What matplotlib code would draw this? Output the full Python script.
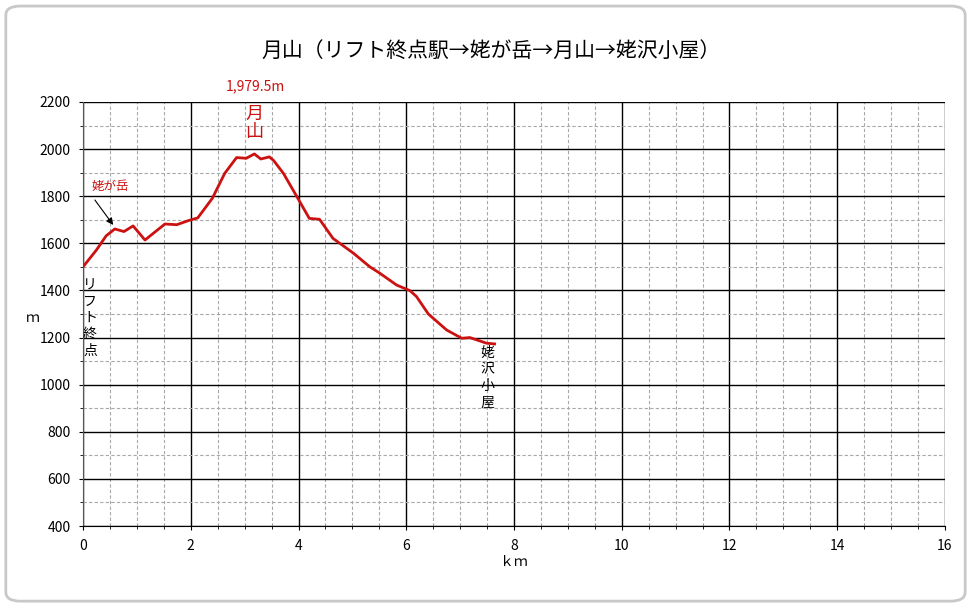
import numpy as np
import matplotlib.pyplot as plt
from matplotlib.patches import FancyBboxPatch

plt.rcParams['font.family'] = ['Noto Sans CJK JP', 'DejaVu Sans']

# profile (km, m)
dist_km = [0.0, 0.25, 0.43, 0.59, 0.76, 0.93, 1.15, 1.52, 1.74, 1.95, 2.13, 2.40,
           2.63, 2.85, 3.03, 3.18, 3.30, 3.46, 3.54, 3.72, 3.97, 4.20, 4.39, 4.64,
           5.02, 5.32, 5.51, 5.82, 6.07, 6.19, 6.41, 6.75, 7.03, 7.18, 7.49, 7.64]
elev_m = [1500, 1572, 1632, 1661, 1650, 1674, 1614, 1682, 1679, 1696, 1708, 1791,
          1897, 1964, 1961, 1979.5, 1958, 1967, 1951, 1897, 1798, 1706, 1702, 1621,
          1558, 1501, 1473, 1423, 1399, 1374, 1300, 1232, 1197, 1200, 1176, 1173]

peak_label = "1,979.5m"
x_ticks = list(range(0, 17, 2))
y_ticks = list(range(400, 2201, 200))

fig = plt.figure(figsize=(9.71, 6.06), dpi=100)
fig.patch.set_facecolor('white')

# rounded frame around the chart
frame = FancyBboxPatch((0.006, 0.008), 0.988, 0.982, boxstyle="round,pad=0,rounding_size=0.015",
                       transform=fig.transFigure, facecolor='white', edgecolor='#c8c8c8',
                       linewidth=2, zorder=-10)
fig.patches.append(frame)

ax = fig.add_axes([0.0855, 0.132, 0.8877, 0.6997])
ax.set_xlim(0, 16)
ax.set_ylim(400, 2200)
ax.set_xticks(x_ticks)
ax.set_yticks(y_ticks)
ax.set_xticks(np.arange(0, 16.01, 0.5), minor=True)
ax.set_yticks(np.arange(400, 2201, 100), minor=True)
ax.grid(which='major', color='black', linewidth=1.0)
ax.grid(which='minor', color='#a8a8a8', linestyle=(0, (3, 2)), linewidth=0.8)
ax.tick_params(which='both', direction='out', length=3, labelsize=10, pad=6)
ax.tick_params(which='minor', length=2)
for s in ['top', 'right']:
    ax.spines[s].set_visible(False)
ax.spines['left'].set_color('#555555')
ax.spines['bottom'].set_color('black')
ax.set_axisbelow(True)

ax.plot(dist_km, elev_m, color='#cc1111', linewidth=2, zorder=5)

fig.text(491 / 971, 1 - 51 / 606, "月山（リフト終点駅→姥が岳→月山→姥沢小屋）",
         fontsize=15, ha='center', va='center')
ax.set_xlabel("ｋｍ", fontsize=10, labelpad=2)
ax.set_ylabel("ｍ", fontsize=10, rotation=0, ha='center', va='center')
ax.yaxis.set_label_coords(-0.058, 0.49)

# annotations
ax.text(3.2, 2235, peak_label, color='#cc1111', fontsize=10, ha='center', va='bottom',
        clip_on=False)
ax.text(3.18, 2035, "月\n山", color='#cc1111', fontsize=13, ha='center', va='bottom',
        linespacing=1.0)
ax.text(0.5, 1840, "姥が岳", color='#cc1111', fontsize=9, ha='center', va='center')
ax.annotate("", xy=(0.56, 1678), xytext=(0.22, 1784),
            arrowprops=dict(arrowstyle='-|>', color='black', lw=0.8, shrinkA=0, shrinkB=0))
ax.text(0.0, 1450, "リ\nフ\nト\n終\n点", fontsize=10, ha='left', va='top', linespacing=1.2)
ax.text(7.5, 1165, "姥\n沢\n小\n屋", fontsize=10, ha='center', va='top', linespacing=1.25)

fig.savefig("out.png", dpi=100)
